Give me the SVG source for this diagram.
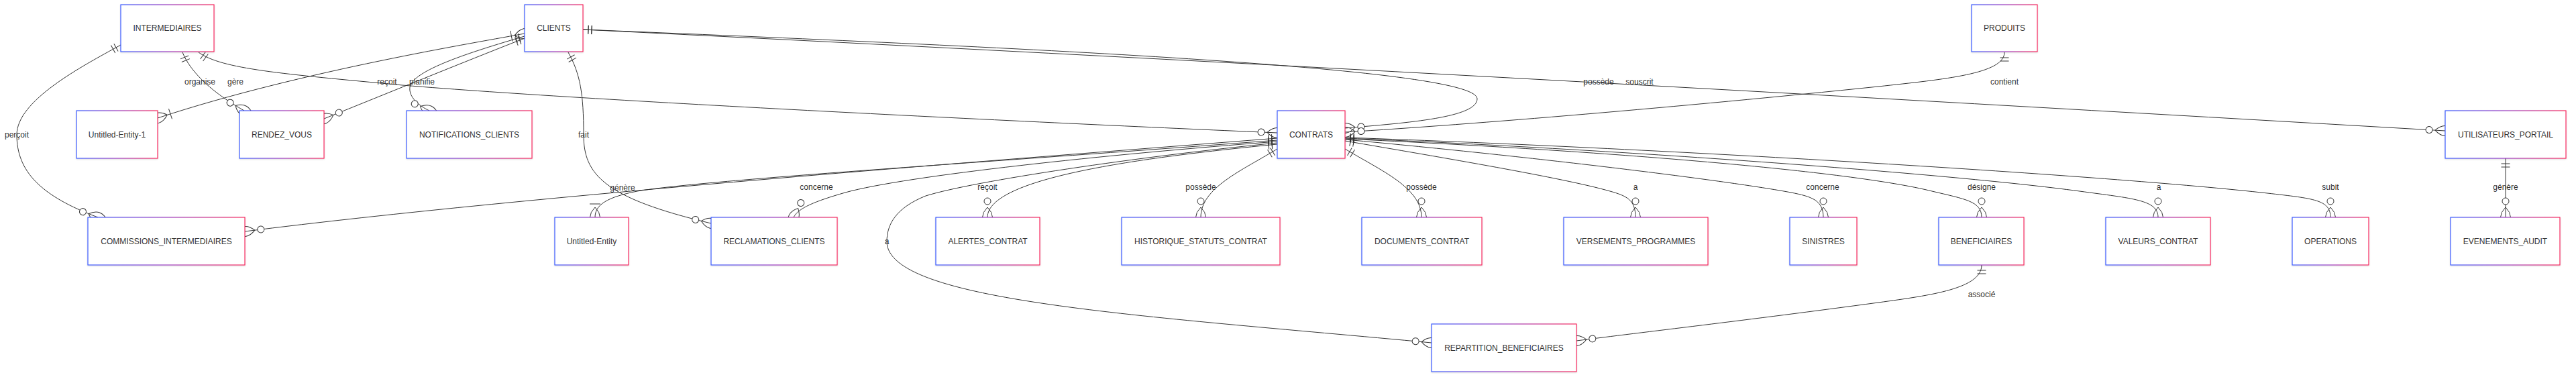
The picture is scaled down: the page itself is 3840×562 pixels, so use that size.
<svg xmlns="http://www.w3.org/2000/svg" width="3840" height="562" viewBox="0 0 3840 562">
<style>
.rel{fill:none;stroke:#333;stroke-width:1}
.mk{fill:none;stroke:#333;stroke-width:1}
.mc{fill:#fff;stroke:#333;stroke-width:1}
.box{fill:#fff;stroke:url(#bg);stroke-width:1.2;filter:url(#sh)}
.nt{font-family:"Liberation Sans",Arial,sans-serif;font-size:12px;fill:#333;text-anchor:middle;dominant-baseline:central}
.el{font-family:"Liberation Sans",Arial,sans-serif;font-size:12px;fill:#333;text-anchor:middle;dominant-baseline:central}
</style>
<defs>
<linearGradient id="bg" x1="0" y1="0" x2="1" y2="0">
<stop offset="0" stop-color="#3a5bff"/>
<stop offset="0.5" stop-color="#9a3cc0"/>
<stop offset="1" stop-color="#f72a5e"/>
</linearGradient>
<filter id="sh" x="-5%" y="-5%" width="110%" height="120%">
<feDropShadow dx="0" dy="1" stdDeviation="1" flood-color="#000" flood-opacity="0.15"/>
</filter>
<marker id="oneStart" markerUnits="userSpaceOnUse" orient="auto" refX="0" refY="0" markerWidth="1" markerHeight="1" overflow="visible">
<path class="mk" d="M8,-6.5 L8,6.5 M13,-6.5 L13,6.5"/>
</marker>
<marker id="zeroManyEnd" markerUnits="userSpaceOnUse" orient="auto" refX="0" refY="0" markerWidth="1" markerHeight="1" overflow="visible">
<circle class="mc" cx="-24" cy="0" r="5"/>
<path class="mk" d="M-15,0 Q0,-15 15,0 Q0,15 -15,0"/>
</marker>
<marker id="oneManyEnd" markerUnits="userSpaceOnUse" orient="auto" refX="0" refY="0" markerWidth="1" markerHeight="1" overflow="visible">
<path class="mk" d="M-20,-8 L-20,8 M-15,0 Q0,-15 15,0 Q0,15 -15,0"/>
</marker>
<marker id="oneManyStart" markerUnits="userSpaceOnUse" orient="auto" refX="0" refY="0" markerWidth="1" markerHeight="1" overflow="visible">
<path class="mk" d="M20,-8 L20,8 M-15,0 Q0,-15 15,0 Q0,15 -15,0"/>
</marker>
</defs>
<rect x="0" y="0" width="3840" height="562" fill="#fff"/>
<g id="connectors">
<path class="rel" marker-start="url(#oneStart)" marker-end="url(#zeroManyEnd)" d="M180,67 C120,100 25,150 25,201 C25,255 60,292 146,324"/>
<path class="rel" marker-start="url(#oneStart)" marker-end="url(#zeroManyEnd)" d="M272,78 C285,110 320,140 364,165"/>
<path class="rel" marker-start="url(#oneStart)" marker-end="url(#zeroManyEnd)" d="M296,78 C330,103 420,110 600,127 C900,152 1600,185 1904,198"/>
<path class="rel" marker-start="url(#oneManyStart)" marker-end="url(#oneManyEnd)" d="M782,50 C720,62 450,105 235,176"/>
<path class="rel" marker-start="url(#oneStart)" marker-end="url(#zeroManyEnd)" d="M782,57 C680,97 580,138 483,177"/>
<path class="rel" marker-start="url(#oneStart)" marker-end="url(#zeroManyEnd)" d="M782,54 C700,78 615,105 611,130 C609,145 625,158 640,165"/>
<path class="rel" marker-start="url(#oneStart)" marker-end="url(#zeroManyEnd)" d="M847,78 C865,110 870,140 870,201 C870,260 900,295 1060,333"/>
<path class="rel" marker-start="url(#oneStart)" marker-end="url(#zeroManyEnd)" d="M869,44 C1500,70 2200,100 2202,147 C2203,175 2100,183 2005,191"/>
<path class="rel" marker-start="url(#oneStart)" marker-end="url(#zeroManyEnd)" d="M869,44 C1800,90 2700,140 3645,195"/>
<path class="rel" marker-start="url(#oneStart)" marker-end="url(#zeroManyEnd)" d="M2988,78 C2988,110 2900,118 2800,129 C2500,160 2200,185 2005,197"/>
<path class="rel" marker-start="url(#oneStart)" marker-end="url(#zeroManyEnd)" d="M1904,206 C1500,238 800,290 365,345"/>
<path class="rel" marker-start="url(#oneStart)" marker-end="url(#oneManyEnd)" d="M1904,209 C1500,240 1050,268 950,285 C905,294 887,305 887,324"/>
<path class="rel" marker-start="url(#oneStart)" marker-end="url(#zeroManyEnd)" d="M1904,211 C1650,230 1350,262 1260,287 C1215,300 1190,310 1183,324"/>
<path class="rel" marker-start="url(#oneStart)" marker-end="url(#zeroManyEnd)" d="M1904,213 C1700,233 1450,270 1380,292 C1335,310 1322,335 1322,360 C1322,450 1700,470 2134,511"/>
<path class="rel" marker-start="url(#oneStart)" marker-end="url(#zeroManyEnd)" d="M1904,215 C1700,235 1472,265 1472,324"/>
<path class="rel" marker-start="url(#oneStart)" marker-end="url(#zeroManyEnd)" d="M1904,222 C1850,255 1790,280 1790,324"/>
<path class="rel" marker-start="url(#oneStart)" marker-end="url(#zeroManyEnd)" d="M2005,222 C2060,255 2119,280 2119,324"/>
<path class="rel" marker-start="url(#oneStart)" marker-end="url(#zeroManyEnd)" d="M2005,210 C2150,235 2330,265 2400,285 C2425,292 2438,298 2438,324"/>
<path class="rel" marker-start="url(#oneStart)" marker-end="url(#zeroManyEnd)" d="M2005,208 C2300,235 2580,270 2670,287 C2700,293 2718,298 2718,324"/>
<path class="rel" marker-start="url(#oneStart)" marker-end="url(#zeroManyEnd)" d="M2005,207 C2400,225 2760,255 2880,285 C2930,297 2954,300 2954,324"/>
<path class="rel" marker-start="url(#oneStart)" marker-end="url(#zeroManyEnd)" d="M2005,206 C2400,222 2900,258 3100,285 C3180,296 3217,298 3217,324"/>
<path class="rel" marker-start="url(#oneStart)" marker-end="url(#zeroManyEnd)" d="M2005,205 C2500,222 3150,262 3380,288 C3450,296 3474,298 3474,324"/>
<path class="rel" marker-start="url(#oneStart)" marker-end="url(#zeroManyEnd)" d="M3735,236 L3735,324"/>
<path class="rel" marker-start="url(#oneStart)" marker-end="url(#zeroManyEnd)" d="M2954,395 C2954,430 2880,440 2800,451 C2600,478 2450,495 2350,508"/>
</g>
<g id="node-INTERMEDIAIRES"><rect class="box" x="180" y="7" width="139" height="70"/><text class="nt" x="249.5" y="42">INTERMEDIAIRES</text></g>
<g id="node-CLIENTS"><rect class="box" x="782" y="7" width="87" height="70"/><text class="nt" x="825.5" y="42">CLIENTS</text></g>
<g id="node-PRODUITS"><rect class="box" x="2939" y="7" width="98" height="70"/><text class="nt" x="2988" y="42">PRODUITS</text></g>
<g id="node-Untitled-Entity-1"><rect class="box" x="114" y="165" width="121" height="71"/><text class="nt" x="174.5" y="200.5">Untitled-Entity-1</text></g>
<g id="node-RENDEZ_VOUS"><rect class="box" x="357" y="165" width="126" height="71"/><text class="nt" x="420" y="200.5">RENDEZ_VOUS</text></g>
<g id="node-NOTIFICATIONS_CLIENTS"><rect class="box" x="606" y="165" width="187" height="71"/><text class="nt" x="699.5" y="200.5">NOTIFICATIONS_CLIENTS</text></g>
<g id="node-CONTRATS"><rect class="box" x="1904" y="165" width="101" height="71"/><text class="nt" x="1954.5" y="200.5">CONTRATS</text></g>
<g id="node-UTILISATEURS_PORTAIL"><rect class="box" x="3645" y="165" width="180" height="71"/><text class="nt" x="3735" y="200.5">UTILISATEURS_PORTAIL</text></g>
<g id="node-COMMISSIONS_INTERMEDIAIRES"><rect class="box" x="131" y="324" width="234" height="71"/><text class="nt" x="248" y="359.5">COMMISSIONS_INTERMEDIAIRES</text></g>
<g id="node-Untitled-Entity"><rect class="box" x="827" y="324" width="110" height="71"/><text class="nt" x="882" y="359.5">Untitled-Entity</text></g>
<g id="node-RECLAMATIONS_CLIENTS"><rect class="box" x="1060" y="324" width="188" height="71"/><text class="nt" x="1154" y="359.5">RECLAMATIONS_CLIENTS</text></g>
<g id="node-ALERTES_CONTRAT"><rect class="box" x="1395" y="324" width="155" height="71"/><text class="nt" x="1472.5" y="359.5">ALERTES_CONTRAT</text></g>
<g id="node-HISTORIQUE_STATUTS_CONTRAT"><rect class="box" x="1672" y="324" width="236" height="71"/><text class="nt" x="1790" y="359.5">HISTORIQUE_STATUTS_CONTRAT</text></g>
<g id="node-DOCUMENTS_CONTRAT"><rect class="box" x="2030" y="324" width="179" height="71"/><text class="nt" x="2119.5" y="359.5">DOCUMENTS_CONTRAT</text></g>
<g id="node-VERSEMENTS_PROGRAMMES"><rect class="box" x="2331" y="324" width="215" height="71"/><text class="nt" x="2438.5" y="359.5">VERSEMENTS_PROGRAMMES</text></g>
<g id="node-SINISTRES"><rect class="box" x="2668" y="324" width="100" height="71"/><text class="nt" x="2718" y="359.5">SINISTRES</text></g>
<g id="node-BENEFICIAIRES"><rect class="box" x="2890" y="324" width="127" height="71"/><text class="nt" x="2953.5" y="359.5">BENEFICIAIRES</text></g>
<g id="node-VALEURS_CONTRAT"><rect class="box" x="3139" y="324" width="156" height="71"/><text class="nt" x="3217" y="359.5">VALEURS_CONTRAT</text></g>
<g id="node-OPERATIONS"><rect class="box" x="3417" y="324" width="114" height="71"/><text class="nt" x="3474" y="359.5">OPERATIONS</text></g>
<g id="node-EVENEMENTS_AUDIT"><rect class="box" x="3653" y="324" width="163" height="71"/><text class="nt" x="3734.5" y="359.5">EVENEMENTS_AUDIT</text></g>
<g id="node-REPARTITION_BENEFICIAIRES"><rect class="box" x="2134" y="483" width="216" height="71"/><text class="nt" x="2242" y="518.5">REPARTITION_BENEFICIAIRES</text></g>
<g id="edge-labels">
<text class="el" x="25" y="201">perçoit</text>
<text class="el" x="298" y="122">organise</text>
<text class="el" x="351" y="122">gère</text>
<text class="el" x="577" y="122">reçoit</text>
<text class="el" x="629" y="122">planifie</text>
<text class="el" x="870" y="201">fait</text>
<text class="el" x="928" y="280">génère</text>
<text class="el" x="1217" y="279">concerne</text>
<text class="el" x="1322" y="360">a</text>
<text class="el" x="1472" y="279">reçoit</text>
<text class="el" x="1790" y="279">possède</text>
<text class="el" x="2119" y="279">possède</text>
<text class="el" x="2438" y="279">a</text>
<text class="el" x="2717" y="279">concerne</text>
<text class="el" x="2954" y="279">désigne</text>
<text class="el" x="3218" y="279">a</text>
<text class="el" x="3474" y="279">subit</text>
<text class="el" x="3735" y="279">génère</text>
<text class="el" x="2383" y="122">possède</text>
<text class="el" x="2444" y="122">souscrit</text>
<text class="el" x="2988" y="122">contient</text>
<text class="el" x="2954" y="439">associé</text>
</g>
</svg>
